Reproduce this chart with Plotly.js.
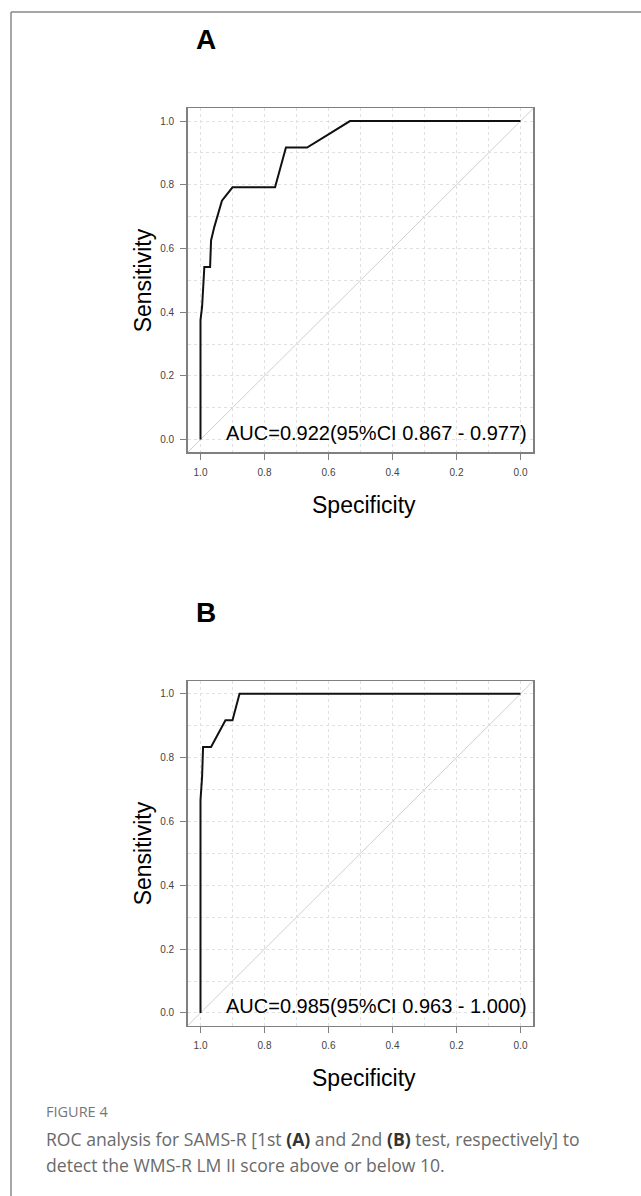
<!DOCTYPE html>
<html>
<head>
<meta charset="utf-8">
<script src="https://cdn.plot.ly/plotly-3.0.1.min.js"></script>
<style>html,body{margin:0;padding:0;background:#fff;}#chart{width:641px;height:1196px;}</style>
</head>
<body>
<div id="chart"></div>
<script>
// ---- Data ----
const specA = [1, 1, 0.995, 0.988, 0.97, 0.967, 0.957, 0.933, 0.9, 0.767, 0.733, 0.667, 0.6, 0.533, 0];
const sensA = [0, 0.375, 0.417, 0.542, 0.542, 0.625, 0.667, 0.75, 0.792, 0.792, 0.917, 0.917, 0.958, 1, 1];
const specB = [1, 1, 0.995, 0.992, 0.967, 0.922, 0.9, 0.878, 0];
const sensB = [0, 0.667, 0.74, 0.833, 0.833, 0.917, 0.917, 1, 1];
const panelLabels = ["A", "B"];
const aucLabels = ["AUC=0.922(95%CI 0.867 - 0.977)", "AUC=0.985(95%CI 0.963 - 1.000)"];
const tickVals = [1.0, 0.8, 0.6, 0.4, 0.2, 0.0];
const xTitle = "Specificity";
const yTitle = "Sensitivity";
const figLabel = "FIGURE 4";
const captionLines = [
  "ROC analysis for SAMS-R [1st <b><span style='color:#333'>(A)</span></b> and 2nd <b><span style='color:#333'>(B)</span></b> test, respectively] to",
  "detect the WMS-R LM II score above or below 10."
];

// ---- Layout helpers (pixel -> paper) ----
const W = 641, H = 1196;
const px = v => v / W;
const py = v => 1 - v / H;
const FONT = "Liberation Sans, Arial, sans-serif";

const boxL = 187.7, boxR = 533.3;
const boxesY = [[108.3, 452.3], [681, 1025.7]];

function axisCommon() {
  return {
    tickvals: tickVals, ticktext: tickVals.map(v => v.toFixed(1)), tickangle: 0,
    ticks: "outside", ticklen: 6, tickwidth: 1, tickcolor: "#808080",
    tickfont: {family: FONT, size: 10, color: "#444"}, ticklabelstandoff: 4,
    showline: true, mirror: true, linecolor: "#808080", linewidth: 1.5,
    showgrid: true, gridcolor: "#e0e0e0", griddash: "dot", gridwidth: 1,
    minor: {dtick: 0.1, tick0: 0, showgrid: true, gridcolor: "#e0e0e0", griddash: "dot", gridwidth: 1, ticks: ""},
    zeroline: false, fixedrange: true, autorange: false
  };
}
function xAxis(anchor, dom) {
  return Object.assign(axisCommon(), {domain: dom, anchor: anchor, range: [1.04, -0.04]});
}
function yAxis(anchor, dom) {
  return Object.assign(axisCommon(), {domain: dom, anchor: anchor, range: [-0.04, 1.04]});
}

const xDom = [px(boxL), px(boxR)];
const yDomA = [py(boxesY[0][1]), py(boxesY[0][0])];
const yDomB = [py(boxesY[1][1]), py(boxesY[1][0])];

const traces = [
  {x: specA, y: sensA, xaxis: "x", yaxis: "y", type: "scatter", mode: "lines",
   line: {color: "#111", width: 2}, hoverinfo: "skip", showlegend: false},
  {x: specB, y: sensB, xaxis: "x2", yaxis: "y2", type: "scatter", mode: "lines",
   line: {color: "#111", width: 2}, hoverinfo: "skip", showlegend: false}
];

const annotations = [];
const shapes = [];
[0, 1].forEach(i => {
  const [top, bot] = boxesY[i];
  const off = top - boxesY[0][0];
  const xr = i === 0 ? "x" : "x2", yr = i === 0 ? "y" : "y2";
  annotations.push({xref: "paper", yref: "paper", x: px(206), y: py(40 + off), text: "<b>" + panelLabels[i] + "</b>",
    showarrow: false, xanchor: "center", yanchor: "middle", font: {family: FONT, size: 28, color: "#000"}});
  annotations.push({xref: xr, yref: yr, x: -0.025, y: 0.022, text: aucLabels[i], showarrow: false,
    xanchor: "right", yanchor: "middle", font: {family: FONT, size: 20, color: "#000"}});
  annotations.push({xref: "paper", yref: "paper", x: px(364), y: py(505 + off), text: xTitle, showarrow: false,
    xanchor: "center", yanchor: "middle", font: {family: FONT, size: 23, color: "#000"}});
  annotations.push({xref: "paper", yref: "paper", x: px(143), y: py((top + bot) / 2), text: yTitle, showarrow: false,
    textangle: -90, xanchor: "center", yanchor: "middle", font: {family: FONT, size: 23, color: "#000"}});
  shapes.push({type: "line", xref: xr + " domain", yref: yr + " domain", x0: 0, y0: 0, x1: 1, y1: 1,
    line: {color: "#cfcfcf", width: 1}, layer: "below"});
});

annotations.push({xref: "paper", yref: "paper", x: px(44), y: py(1111), text: figLabel, showarrow: false,
  xanchor: "left", yanchor: "middle", font: {family: "Open Sans, sans-serif", size: 14.5, color: "#777"}});
captionLines.forEach((t, k) => {
  annotations.push({xref: "paper", yref: "paper", x: px(44), y: py(1139 + 26 * k), text: t, showarrow: false,
    xanchor: "left", yanchor: "middle", font: {family: "Open Sans, sans-serif", size: 17.6, color: "#6a6a6a"}});
});

shapes.push({type: "line", xref: "paper", yref: "paper", x0: px(11), y0: py(12), x1: 1, y1: py(12), line: {color: "#888", width: 1.5}});
shapes.push({type: "line", xref: "paper", yref: "paper", x0: px(11), y0: py(12), x1: px(11), y1: 0, line: {color: "#888", width: 1.5}});

const layout = {
  width: W, height: H, margin: {l: 0, r: 0, t: 0, b: 0},
  paper_bgcolor: "#fff", plot_bgcolor: "#fff", showlegend: false,
  xaxis: xAxis("y", xDom), yaxis: yAxis("x", yDomA),
  xaxis2: xAxis("y2", xDom), yaxis2: yAxis("x2", yDomB),
  annotations: annotations, shapes: shapes
};

Plotly.newPlot("chart", traces, layout, {displayModeBar: false, staticPlot: true});
</script>
</body>
</html>
